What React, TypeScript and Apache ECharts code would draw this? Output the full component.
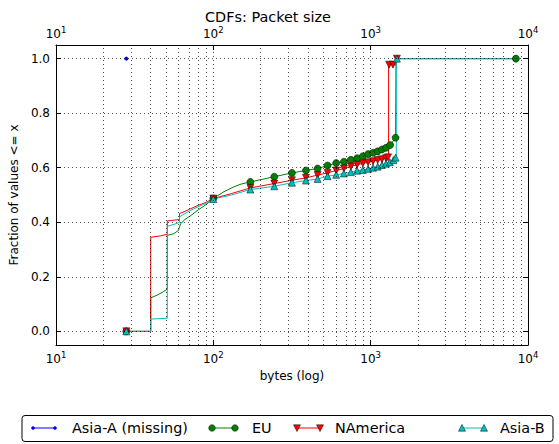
import React, { useEffect, useRef } from "react";
import * as echarts from "echarts";

const FONT = "'DejaVu Sans', 'Bitstream Vera Sans', sans-serif";

// Dotted grid positions on the log x axis and the y tick values
const xMajorGrid = [100, 1000];
const xMinorGrid = [20, 30, 40, 50, 60, 70, 80, 90, 200, 300, 400, 500, 600, 700, 800, 900, 2000, 3000, 4000, 5000, 6000, 7000, 8000, 9000];
const yTicks = [0.0, 0.2, 0.4, 0.6, 0.8, 1.0];

// Asia-A: only one value recorded
const asiaACurve: [number, number][] = [[28, 1.0]];

// EU cumulative distribution (bytes, fraction)
const euCurve: [number, number][] = [
  [28, 0], [40, 0], [40, 0.123], [44, 0.133], [48, 0.145], [51, 0.155], [51, 0.352], [56, 0.358],
  [60, 0.37], [62, 0.395], [66, 0.41], [72, 0.425], [80, 0.445], [90, 0.465], [100, 0.487],
  [115, 0.51], [135, 0.53], [150, 0.54], [172, 0.548], [244, 0.567], [316, 0.581], [388, 0.59],
  [460, 0.597], [532, 0.608], [604, 0.617], [676, 0.622], [748, 0.629], [820, 0.635], [892, 0.642],
  [964, 0.65], [1036, 0.655], [1108, 0.66], [1180, 0.667], [1252, 0.673], [1330, 0.683],
  [1440, 0.71], [1450, 0.71], [1450, 1.0], [8380, 1.0],
];
const euMarks = [28, 100, 172, 244, 316, 388, 460, 532, 604, 676, 748, 820, 892, 964, 1036, 1108, 1180, 1252, 1330, 1440, 8380];

// NAmerica cumulative distribution
const naCurve: [number, number][] = [
  [28, 0], [40, 0], [40, 0.345], [46, 0.35], [51, 0.356], [51, 0.405], [61, 0.41], [61, 0.432],
  [66, 0.44], [72, 0.45], [80, 0.462], [90, 0.473], [100, 0.487], [130, 0.505], [172, 0.526],
  [244, 0.542], [316, 0.554], [388, 0.563], [460, 0.573], [532, 0.581], [604, 0.59], [676, 0.597],
  [748, 0.605], [820, 0.611], [892, 0.616], [964, 0.62], [1036, 0.624], [1108, 0.628], [1180, 0.631],
  [1252, 0.635], [1290, 0.638], [1300, 0.64], [1300, 0.978], [1310, 0.978], [1385, 0.978],
  [1460, 0.978], [1460, 1.0], [1468, 1.0], [8380, 1.0],
];
const naMarks = [28, 100, 172, 244, 316, 388, 460, 532, 604, 676, 748, 820, 892, 964, 1036, 1108, 1180, 1252, 1290, 1310, 1385, 1468];

// Asia-B cumulative distribution
const abCurve: [number, number][] = [
  [28, 0], [40, 0], [40, 0.045], [51, 0.048], [51, 0.385], [58, 0.395], [61, 0.4], [61, 0.42],
  [66, 0.432], [72, 0.444], [80, 0.457], [90, 0.47], [100, 0.485], [130, 0.5], [172, 0.52],
  [244, 0.532], [316, 0.545], [388, 0.553], [460, 0.559], [532, 0.569], [604, 0.574], [676, 0.579],
  [748, 0.584], [820, 0.589], [892, 0.592], [964, 0.596], [1036, 0.6], [1108, 0.604], [1180, 0.61],
  [1252, 0.615], [1324, 0.62], [1396, 0.628], [1440, 0.637], [1455, 0.64], [1455, 1.0], [1468, 1.0],
  [8380, 1.0],
];
const abMarks = [28, 100, 172, 244, 316, 388, 460, 532, 604, 676, 748, 820, 892, 964, 1036, 1108, 1180, 1252, 1324, 1396, 1440, 1468];

const BLUE = "#0000ff";
const GREEN = "#008000";
const RED = "#ff0000";
const CYAN = "#00bfbf";

function withMarks(curve: [number, number][], marks: number[], symbol: string) {
  const used = new Set<number>();
  return curve.map(([x, y]) => {
    const mark = marks.includes(x) && !used.has(x);
    if (mark) used.add(x);
    return { value: [x, y], symbol: mark ? symbol : "none" };
  });
}

const decadeLabel = (v: number) => `{b|10}{s|${Math.round(Math.log10(v))}}`;
const decadeRich = {
  b: { fontSize: 12, fontFamily: FONT, color: "#000", lineHeight: 15, verticalAlign: "bottom" },
  s: { fontSize: 8.5, fontFamily: FONT, color: "#000", lineHeight: 8, verticalAlign: "top" },
};

function logAxis(position: "top" | "bottom", extra: any = {}) {
  return {
    type: "log",
    logBase: 10,
    min: 10,
    max: 10000,
    position,
    axisLine: { show: true, onZero: false, lineStyle: { color: "#000", width: 1 } },
    axisTick: { show: true, inside: true, length: 5, lineStyle: { color: "#000", width: 1 } },
    axisLabel: {
      show: true,
      formatter: decadeLabel,
      rich: decadeRich,
      margin: 5,
      showMinLabel: true,
      showMaxLabel: true,
    },
    splitLine: { show: false },
    ...extra,
  };
}

function legendItem(x0: number, x1: number, tx: number, color: string, label: string, marker: string) {
  const cy = 428;
  const children: any[] = [
    { type: "line", shape: { x1: x0, y1: cy, x2: x1, y2: cy }, style: { stroke: color, lineWidth: 1 } },
  ];
  for (const mx of [x0, x1]) {
    if (marker === "dot") {
      children.push({ type: "circle", shape: { cx: mx, cy, r: 1.8 }, style: { fill: color } });
    } else if (marker === "circle") {
      children.push({ type: "circle", shape: { cx: mx, cy, r: 3.3 }, style: { fill: color, stroke: "#000", lineWidth: 0.5 } });
    } else if (marker === "down") {
      children.push({
        type: "polygon",
        shape: { points: [[mx - 3.5, cy - 3.2], [mx + 3.5, cy - 3.2], [mx, cy + 3.6]] },
        style: { fill: color, stroke: "#000", lineWidth: 0.5 },
      });
    } else {
      children.push({
        type: "polygon",
        shape: { points: [[mx - 3.5, cy + 3.2], [mx + 3.5, cy + 3.2], [mx, cy - 3.6]] },
        style: { fill: color, stroke: "#000", lineWidth: 0.5 },
      });
    }
  }
  children.push({
    type: "text",
    x: tx,
    y: cy,
    style: { text: label, fontSize: 14.4, fontFamily: FONT, fill: "#000", verticalAlign: "middle" },
  });
  return children;
}

export default function App() {
  const ref = useRef<HTMLDivElement>(null);

  useEffect(() => {
    if (!ref.current) return;
    const chart = echarts.init(ref.current, undefined, { renderer: "svg" });

    const gridLines = [
      ...xMajorGrid.map((v) => ({ xAxis: v })),
      ...xMinorGrid.map((v) => ({ xAxis: v })),
      ...yTicks.map((v) => ({ yAxis: v })),
    ];

    const option: any = {
      animation: false,
      backgroundColor: "#ffffff",
      textStyle: { fontFamily: FONT },
      title: {
        text: "CDFs: Packet size",
        left: 268,
        top: 9.5,
        padding: 0,
        textAlign: "center",
        textStyle: { fontFamily: FONT, fontSize: 14.4, lineHeight: 14.4, fontWeight: "normal", color: "#000" },
      },
      grid: { left: 51.7, right: 31, top: 45, bottom: 99, containLabel: false },
      xAxis: [
        logAxis("bottom", {
          name: "bytes (log)",
          nameLocation: "middle",
          nameGap: 22,
          nameTextStyle: { fontFamily: FONT, fontSize: 12, color: "#000", verticalAlign: "top" },
        }),
        logAxis("top"),
      ],
      yAxis: [
        {
          type: "value",
          min: -0.05,
          max: 1.05,
          position: "left",
          name: "Fraction of values <= x",
          nameLocation: "middle",
          nameGap: 25,
          nameRotate: 90,
          nameTextStyle: { fontFamily: FONT, fontSize: 12, color: "#000" },
          axisLine: { show: true, onZero: false, lineStyle: { color: "#000", width: 1 } },
          axisTick: { show: true, inside: true, length: 5, customValues: yTicks, lineStyle: { color: "#000" } },
          axisLabel: {
            customValues: yTicks,
            formatter: (v: number) => v.toFixed(1),
            fontFamily: FONT,
            fontSize: 12,
            color: "#000",
            margin: 6,
          },
          splitLine: { show: false },
        },
        {
          type: "value",
          min: -0.05,
          max: 1.05,
          position: "right",
          axisLine: { show: true, onZero: false, lineStyle: { color: "#000", width: 1 } },
          axisTick: { show: true, inside: true, length: 5, customValues: yTicks, lineStyle: { color: "#000" } },
          axisLabel: { show: false },
          splitLine: { show: false },
        },
      ],
      series: [
        {
          name: "Asia-A (missing)",
          type: "line",
          xAxisIndex: 0,
          yAxisIndex: 0,
          data: asiaACurve,
          symbol: "circle",
          symbolSize: 4,
          showSymbol: true,
          itemStyle: { color: BLUE },
          lineStyle: { color: BLUE, width: 1 },
          markLine: {
            silent: true,
            symbol: ["none", "none"],
            label: { show: false },
            lineStyle: { type: [1, 3], color: "#000", width: 0.7 },
            emphasis: { disabled: true },
            data: gridLines,
          },
        },
        {
          name: "EU",
          type: "line",
          data: withMarks(euCurve, euMarks, "circle"),
          symbolSize: 7,
          showSymbol: true,
          itemStyle: { color: GREEN, borderColor: "#000", borderWidth: 0.5 },
          lineStyle: { color: GREEN, width: 1 },
        },
        {
          name: "NAmerica",
          type: "line",
          data: withMarks(naCurve, naMarks, "triangle"),
          symbolSize: 7,
          symbolRotate: 180,
          showSymbol: true,
          itemStyle: { color: RED, borderColor: "#000", borderWidth: 0.5 },
          lineStyle: { color: RED, width: 1 },
        },
        {
          name: "Asia-B",
          type: "line",
          data: withMarks(abCurve, abMarks, "triangle"),
          symbolSize: 7,
          showSymbol: true,
          itemStyle: { color: CYAN, borderColor: "#000", borderWidth: 0.5 },
          lineStyle: { color: CYAN, width: 1 },
        },
      ],
      graphic: [
        {
          type: "rect",
          shape: { x: 22, y: 415.5, width: 531, height: 26, r: 3 },
          style: { fill: "#fff", stroke: "#000", lineWidth: 1 },
        },
        ...legendItem(33, 55, 72, BLUE, "Asia-A (missing)", "dot"),
        ...legendItem(212, 235, 252, GREEN, "EU", "circle"),
        ...legendItem(297, 320, 335, RED, "NAmerica", "down"),
        ...legendItem(462, 484, 500, CYAN, "Asia-B", "up"),
      ],
    };

    chart.setOption(option);
    return () => chart.dispose();
  }, []);

  return (
    <div
      ref={ref}
      style={{ position: "fixed", left: 0, top: 0, width: 559, height: 444, background: "#fff" }}
    />
  );
}
